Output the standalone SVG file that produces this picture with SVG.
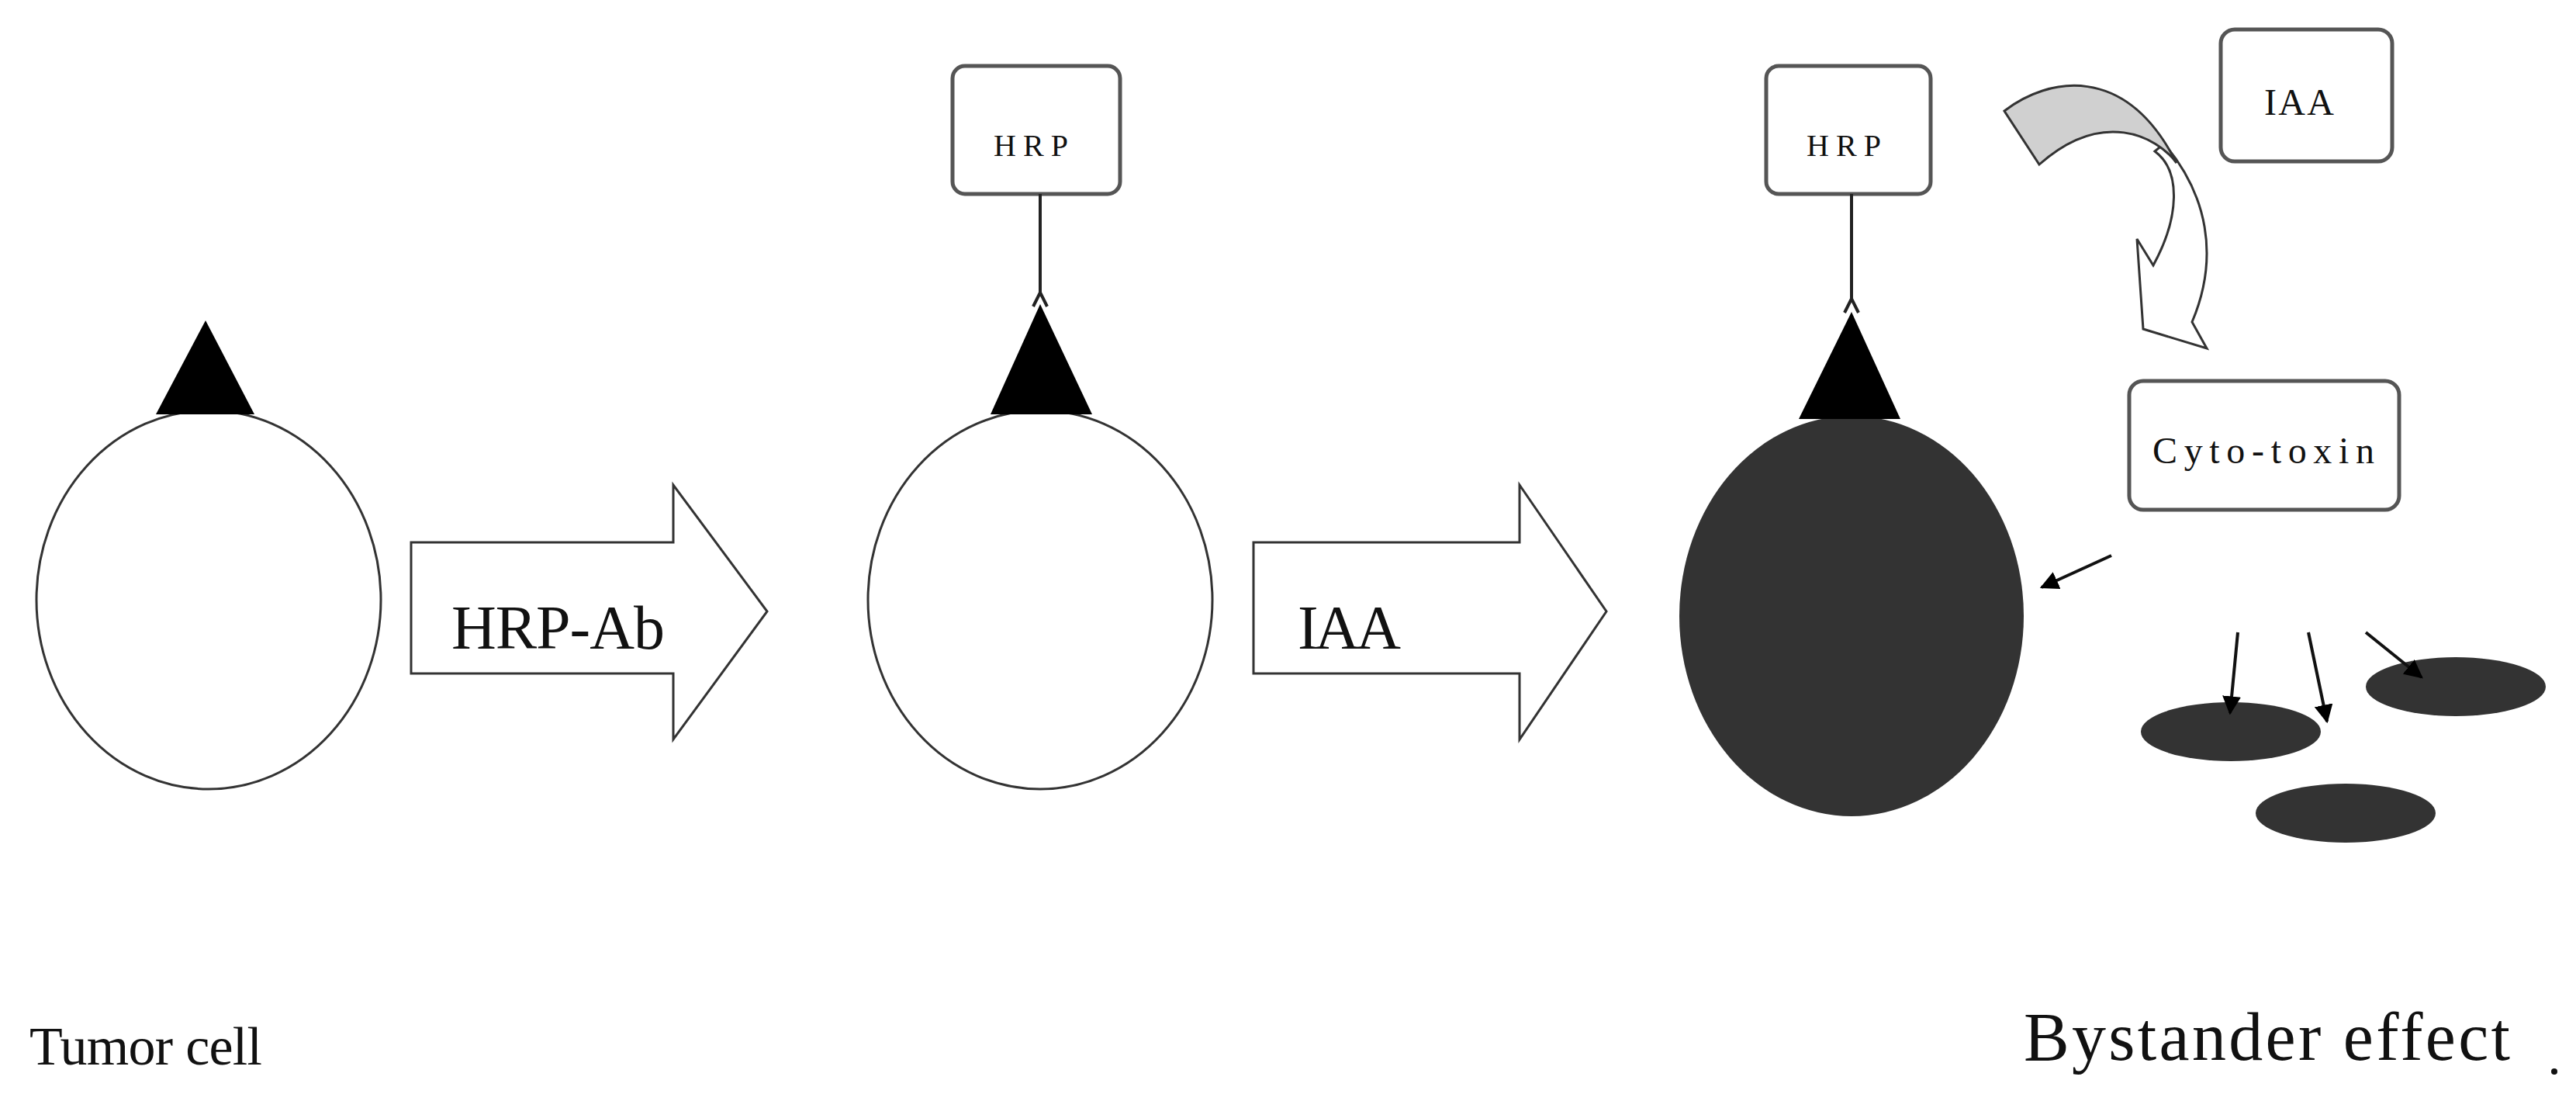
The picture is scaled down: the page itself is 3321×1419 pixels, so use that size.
<svg xmlns="http://www.w3.org/2000/svg" width="3321" height="1419" viewBox="0 0 3321 1419">
<style>
text{font-family:"Liberation Serif","Times New Roman",serif;fill:#111}
.cell{fill:#fff;stroke:#333;stroke-width:3}
.box{fill:#fff;stroke:#555;stroke-width:5}
.big{fill:#fff;stroke:#333;stroke-width:3}
.ln{stroke:#222;stroke-width:4;fill:none}
.tri{fill:#000}
.sm{stroke:#111;stroke-width:4;fill:none;marker-end:url(#ah)}
</style>
<defs>
<marker id="ah" viewBox="0 0 10 10" refX="9" refY="5" markerWidth="6" markerHeight="6" orient="auto" markerUnits="strokeWidth"><path d="M0,0 L10,5 L0,10 Z" fill="#000"/></marker>
</defs>
<rect width="3321" height="1419" fill="#fff"/>
<g id="cell1">
<ellipse class="cell" cx="269" cy="773" rx="222" ry="244"/>
<polygon class="tri" points="265,413 201,534 328,534"/>
</g>
<g id="cell2">
<ellipse class="cell" cx="1341" cy="773" rx="222" ry="244"/>
<polygon class="tri" points="1341,392 1277,534 1408,534"/>
</g>
<g id="hrp1">
<rect class="box" x="1228" y="85" width="216" height="165" rx="16"/>
<text x="1329" y="201" font-size="40" text-anchor="middle" textLength="96">HRP</text>
<line class="ln" x1="1341" y1="250" x2="1341" y2="377"/>
<polyline class="ln" points="1332,395 1341,377 1350,395"/>
</g>
<g id="cell3">
<ellipse cx="2387" cy="794" rx="222" ry="258" fill="#333"/>
<polygon class="tri" points="2387,402 2319,540 2450,540"/>
</g>
<g id="hrp2">
<rect class="box" x="2277" y="85" width="212" height="165" rx="16"/>
<text x="2377" y="201" font-size="40" text-anchor="middle" textLength="96">HRP</text>
<line class="ln" x1="2387" y1="250" x2="2387" y2="385"/>
<polyline class="ln" points="2378,403 2387,385 2396,403"/>
</g>
<g id="iaa">
<rect class="box" x="2863" y="38" width="221" height="170" rx="18"/>
<text x="2919" y="148" font-size="48" textLength="90">IAA</text>
</g>
<g id="cytotoxin">
<rect class="box" x="2745" y="491" width="348" height="166" rx="18"/>
<text x="2775" y="597" font-size="48" textLength="286">Cyto-toxin</text>
</g>
<g id="bystanders">
<ellipse cx="2876" cy="943" rx="116" ry="38" fill="#333"/>
<ellipse cx="3166" cy="885" rx="116" ry="38" fill="#333"/>
<ellipse cx="3024" cy="1048" rx="116" ry="38" fill="#333"/>
</g>
<g id="connectors">
<g id="arrow1">
<polygon class="big" points="530,699 868,699 868,625 989,788 868,953 868,868 530,868"/>
<text x="582" y="836" font-size="80" textLength="275">HRP-Ab</text>
</g>
<g id="arrow2">
<polygon class="big" points="1616,699 1959,699 1959,625 2071,788 1959,953 1959,868 1616,868"/>
<text x="1673" y="836" font-size="80" textLength="133">IAA</text>
</g>
<g id="curved">
<path d="M2790,185 C2845,250 2862,330 2826,415 L2845,449 L2763,424 L2755,308 L2776,342 C2810,280 2812,220 2778,195 Z" fill="#fff" stroke="#333" stroke-width="3"/>
<path d="M2584,143 C2640,100 2740,80 2806,210 C2780,175 2710,140 2629,212 Z" fill="#d0d0d0" stroke="#333" stroke-width="3"/>
</g>
<line class="sm" x1="2722" y1="716" x2="2632" y2="757"/>
<line class="sm" x1="2885" y1="815" x2="2875" y2="919"/>
<line class="sm" x1="2976" y1="815" x2="3000" y2="930"/>
<line class="sm" x1="3050" y1="815" x2="3122" y2="873"/>
</g>
<text x="38" y="1372" font-size="70" textLength="300">Tumor cell</text>
<text x="2609" y="1366" font-size="88" textLength="627">Bystander effect</text>
<circle cx="3293" cy="1381" r="4" fill="#111"/>
</svg>
